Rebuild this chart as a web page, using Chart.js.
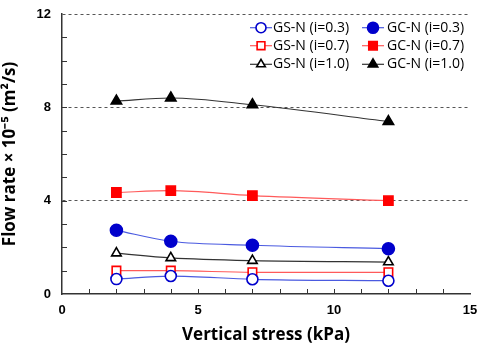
<!DOCTYPE html>
<html><head><meta charset="utf-8">
<script src="https://cdn.jsdelivr.net/npm/chart.js@4"></script>
<style>html,body{margin:0;padding:0;background:#fff}#w{width:483px;height:345px}</style>
</head><body><div id="w"><canvas id="c" width="483" height="345"></canvas></div>
<script>
const stress = [2, 4, 7, 12];
const gsN03 = [0.64, 0.77, 0.63, 0.57];
const gsN07 = [1.0, 1.0, 0.93, 0.93];
const gsN10 = [1.75, 1.55, 1.43, 1.37];
const gcN03 = [2.73, 2.26, 2.09, 1.94];
const gcN07 = [4.35, 4.43, 4.22, 4.0];
const gcN10 = [8.27, 8.4, 8.11, 7.39];
const seriesNames = ['GS-N (i=0.3)','GC-N (i=0.3)','GS-N (i=0.7)','GC-N (i=0.7)','GS-N (i=1.0)','GC-N (i=1.0)'];
const xTickLabels = [0, 5, 10, 15];
const yTickLabels = [0, 4, 8, 12];

const BLUE='#0000cc', BLUEL='#4a5ae0', RED='#ff0000', REDL='#ff5a5a', BLK='#000000', BLKL='#333333';
function ds(label, vals, line, mk, style, filled, r){
  return {label, data: stress.map((x,i)=>({x, y: vals[i]})), borderColor: line, borderWidth: 1.2,
    pointStyle: style, pointRadius: r, pointBorderColor: mk, pointBackgroundColor: filled? mk : '#ffffff',
    pointBorderWidth: 1.6, tension: 0.4, cubicInterpolationMode: 'monotone', fill:false, showLine:true};
}
const datasets = [
  ds(seriesNames[0], gsN03, BLUEL, BLUE, 'circle', false, 5.5),
  ds(seriesNames[1], gcN03, BLUEL, BLUE, 'circle', true, 6),
  ds(seriesNames[2], gsN07, REDL, RED, 'rect', false, 6),
  ds(seriesNames[3], gcN07, REDL, RED, 'rect', true, 6.5),
  ds(seriesNames[4], gsN10, BLKL, BLK, 'triangle', false, 5.5),
  ds(seriesNames[5], gcN10, BLKL, BLK, 'triangle', true, 6),
];

const insideTicks = {
  id:'insideTicks',
  afterDatasetsDraw(chart){
    const {ctx, scales:{x,y}} = chart;
    ctx.save();
    ctx.strokeStyle='#333'; ctx.lineWidth=1;
    for(let v=1; v<15; v++){ const px=Math.round(x.getPixelForValue(v))+0.5; ctx.beginPath(); ctx.moveTo(px,y.bottom); ctx.lineTo(px,y.bottom-5); ctx.stroke(); }
    for(let v=1; v<12; v++){ const py=Math.round(y.getPixelForValue(v))+0.5; ctx.beginPath(); ctx.moveTo(x.left,py); ctx.lineTo(x.left+5,py); ctx.stroke(); }
    // legend
    const cols=[{lx:250,mx:261,tx:273},{lx:362,mx:373,tx:387}];
    const rows=[27.7,45.7,64.3];
    ctx.font='14px "Open Sans", "Liberation Sans", sans-serif';
    ctx.textBaseline='middle'; ctx.textAlign='left';
    chart.data.datasets.forEach((d,i)=>{
      const c=cols[i%2], ry=rows[Math.floor(i/2)];
      ctx.strokeStyle=d.borderColor; ctx.lineWidth=1.2;
      ctx.beginPath(); ctx.moveTo(c.lx,ry); ctx.lineTo(c.mx+11,ry); ctx.stroke();
      ctx.fillStyle=d.pointBackgroundColor; ctx.strokeStyle=d.pointBorderColor; ctx.lineWidth=d.pointBorderWidth;
      Chart.helpers.drawPoint(ctx,{pointStyle:d.pointStyle, radius:d.pointRadius-0.5, borderWidth:d.pointBorderWidth, rotation:0}, c.mx, ry);
      ctx.fillStyle='#000';
      ctx.fillText(d.label, c.tx, ry);
    });
    ctx.restore();
  }
};

new Chart(document.getElementById('c'), {
  type:'line',
  data:{datasets},
  options:{
    responsive:false, animation:false, devicePixelRatio:1,
    layout:{padding:{top:14, right:13, left:0, bottom:0}},
    plugins:{legend:{display:false}, tooltip:{enabled:false}},
    scales:{
      x:{type:'linear', min:0, max:15,
        afterBuildTicks(s){ s.ticks = xTickLabels.map(v=>({value:v})); },
        afterFit(s){ s.height = 51; s.paddingLeft = 0; s.paddingRight = 0; },
        grid:{display:false, drawTicks:false},
        border:{display:true, color:'#333', width:1.5},
        ticks:{padding:9, color:'#000', font:{family:'"Liberation Sans", Arial, sans-serif', weight:'bold', size:13}, maxRotation:0},
        title:{display:true, text:'Vertical stress (kPa)', color:'#000', padding:{top:2,bottom:0}, font:{family:'"Open Sans", "Liberation Sans", sans-serif', weight:'bold', size:17}}
      },
      y:{type:'linear', min:0, max:12,
        afterBuildTicks(s){ s.ticks = yTickLabels.map(v=>({value:v})); },
        afterFit(s){ s.width = 62; s.paddingTop = 0; s.paddingBottom = 0; },
        grid:{drawTicks:false, color:(c)=> (c.tick && c.tick.value>0) ? '#555' : 'rgba(0,0,0,0)', lineWidth:1},
        border:{display:true, color:'#333', width:1.5, dash:[3,3]},
        ticks:{padding:11, color:'#000', font:{family:'"Liberation Sans", Arial, sans-serif', weight:'bold', size:13}},
        title:{display:true, text:'Flow rate × 10⁻⁵ (m²/s)', color:'#000', padding:{top:0,bottom:6}, font:{family:'"Open Sans", "Liberation Sans", sans-serif', weight:'bold', size:17}}
      }
    }
  },
  plugins:[insideTicks]
});
</script></body></html>
